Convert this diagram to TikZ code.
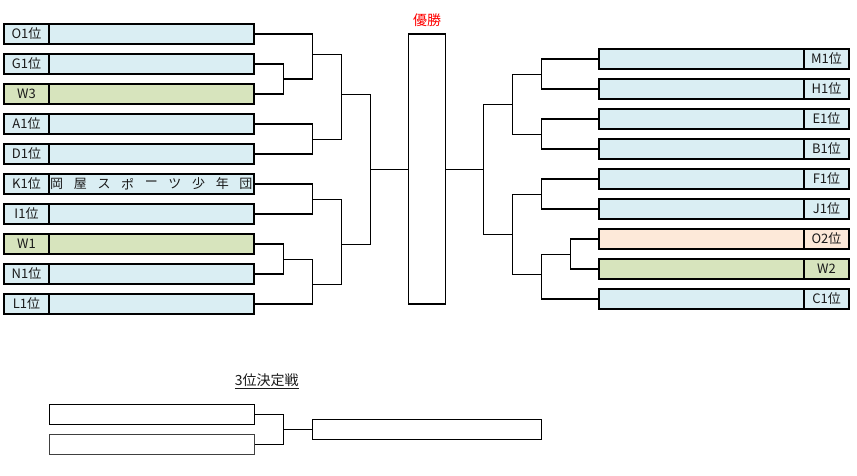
\documentclass[tikz,border=0pt]{standalone}
\usepackage{fontspec}
\setmainfont{Noto Sans CJK JP}
\definecolor{cblue}{HTML}{DAEEF3}
\definecolor{cgreen}{HTML}{D7E4BD}
\definecolor{cpeach}{HTML}{FDE9D9}
\definecolor{ctext}{HTML}{1A1A1A}
\definecolor{cgray}{HTML}{404040}
\begin{document}
\begin{tikzpicture}[x=1pt,y=-1pt,
  cell/.style={draw=black,line width=1.15pt,inner sep=0pt,minimum height=20pt,text=ctext,font=\fontsize{13pt}{15pt}\selectfont},
  labcell/.style={cell,minimum width=45pt},
  namecell/.style={cell,minimum width=205pt},
  tbox/.style={draw=black,line width=1.15pt,inner sep=0pt,minimum height=20pt,minimum width=205pt},
  wire/.style={line width=1.15pt,draw=black},
  chr/.style={inner sep=0pt,text=ctext,font=\fontsize{13pt}{15pt}\selectfont}]
\useasboundingbox (0,0) rectangle (857,475);
% ---------- left side ----------
\foreach \nm/\lab/\col [count=\i from 0] in {O1/O1位/cblue,G1/G1位/cblue,W3/W3/cgreen,A1/A1位/cblue,D1/D1位/cblue,K1/K1位/cblue,I1/I1位/cblue,W1/W1/cgreen,N1/N1位/cblue,L1/L1位/cblue}{
  \node[labcell,fill=\col] (L\nm t) at (26.5,34+30*\i) {\lab};
  \node[namecell,fill=\col] (L\nm) at (151.5,34+30*\i) {};
}
% team name in K1
\foreach \c [count=\k from 0] in {岡,屋,ス,ポ,ー,ツ,少,年,団}{
  \node[chr] (kc\k) at (56.7+23.65*\k,184) {\c};
}
% ---------- right side ----------
\foreach \nm/\lab/\col [count=\i from 0] in {M1/M1位/cblue,H1/H1位/cblue,E1/E1位/cblue,B1/B1位/cblue,F1/F1位/cblue,J1/J1位/cblue,O2/O2位/cpeach,W2/W2/cgreen,C1/C1位/cblue}{
  \node[namecell,fill=\col] (R\nm) at (701.5,59+30*\i) {};
  \node[labcell,fill=\col] (R\nm t) at (826.5,59+30*\i) {\lab};
}
% ---------- champion ----------
\node[draw=black,line width=1.15pt,inner sep=0pt,minimum width=37.4pt,minimum height=270pt] (champ) at (427,169) {};
\node[text=red,inner sep=0pt,font=\fontsize{14pt}{16pt}\selectfont] (title) at (427,20.5) {優勝};
% ---------- left brackets ----------
\coordinate (mGW) at (283.3,79);
\coordinate (mOG) at (312.3,54.3);
\coordinate (mAD) at (312.3,139.3);
\coordinate (mT) at (341.5,94.7);
\coordinate (mKI) at (312.3,199.3);
\coordinate (mWN) at (283.3,259.3);
\coordinate (mWL) at (312.3,284.3);
\coordinate (mB) at (341.5,244.3);
\coordinate (mL) at (370.3,169.3);
\draw[wire] (LG1.east) -| (mGW) |- (LW3.east);
\draw[wire] (LO1.east) -| (mOG) |- (mGW);
\draw[wire] (LA1.east) -| (mAD) |- (LD1.east);
\draw[wire] (mOG) -| (mT) |- (mAD);
\draw[wire] (LK1.east) -| (mKI) |- (LI1.east);
\draw[wire] (LW1.east) -| (mWN) |- (LN1.east);
\draw[wire] (mWN) -| (mWL) |- (LL1.east);
\draw[wire] (mKI) -| (mB) |- (mWL);
\draw[wire] (mT) -| (mL) |- (mB);
\draw[wire] (mL) -- (champ.west |- mL);
% ---------- right brackets ----------
\coordinate (nMH) at (541.7,74.3);
\coordinate (nEB) at (541.7,134.3);
\coordinate (nT) at (512.3,104.3);
\coordinate (nFJ) at (541.7,194.3);
\coordinate (nOW) at (570.3,254.3);
\coordinate (nOC) at (541.7,274.3);
\coordinate (nB) at (512.3,234.3);
\coordinate (nR) at (483.3,169.3);
\draw[wire] (RM1.west) -| (nMH) |- (RH1.west);
\draw[wire] (RE1.west) -| (nEB) |- (RB1.west);
\draw[wire] (nMH) -| (nT) |- (nEB);
\draw[wire] (RF1.west) -| (nFJ) |- (RJ1.west);
\draw[wire] (RO2.west) -| (nOW) |- (RW2.west);
\draw[wire] (nOW) -| (nOC) |- (RC1.west);
\draw[wire] (nFJ) -| (nB) |- (nOC);
\draw[wire] (nT) -| (nR) |- (nB);
\draw[wire] (nR) -- (champ.east |- nR);
% ---------- third place ----------
\node[text=ctext,inner sep=0pt,font=\fontsize{14pt}{16pt}\selectfont] (third) at (266.7,381) {\underline{3位決定戦}};
\node[tbox] (T1) at (151.8,414.3) {};
\node[tbox,draw=cgray] (T2) at (151.8,444.3) {};
\node[draw=black,line width=1.15pt,inner sep=0pt,minimum height=20pt,minimum width=229pt] (T3) at (426.8,429.3) {};
\coordinate (mTT) at (283.7,429.3);
\draw[wire] (T1.east) -| (mTT) |- (T2.east);
\draw[wire] (mTT) -- (T3.west);
\end{tikzpicture}
\end{document}
